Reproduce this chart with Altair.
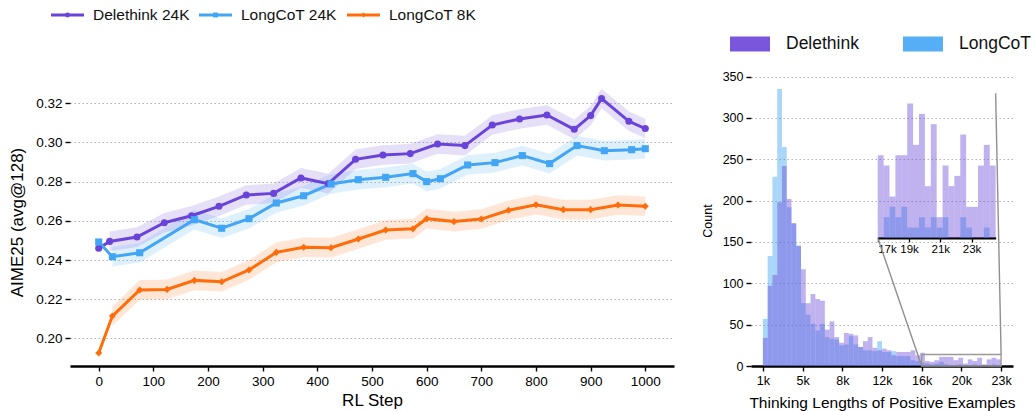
import altair as alt
import pandas as pd

FONT = "Liberation Sans"

# ---- AIME25 (avg@128) over RL training steps ----
SERIES = ["Delethink 24K", "LongCoT 24K", "LongCoT 8K"]
LINE_COLORS = ["#6a44d8", "#42a5f5", "#ff6d0a"]
MARKERS = ["circle", "square", "diamond"]

DELETHINK_STEPS = [0, 20, 70, 120, 170, 220, 270, 320, 370, 420, 470, 520,
                   570, 620, 670, 720, 770, 820, 870, 900, 920, 970, 1000]
DELETHINK_SCORES = [0.2460, 0.2495, 0.2517, 0.2590, 0.2626, 0.2674, 0.2732,
                    0.2740, 0.2819, 0.2790, 0.2914, 0.2936, 0.2943, 0.2992,
                    0.2984, 0.3089, 0.3120, 0.3140, 0.3067, 0.3137, 0.3224,
                    0.3108, 0.3071]
LONGCOT24_STEPS = [0, 25, 75, 175, 225, 275, 325, 375, 425, 475, 525, 575,
                   600, 625, 675, 725, 775, 825, 875, 925, 975, 1000]
LONGCOT24_SCORES = [0.2492, 0.2417, 0.2437, 0.2606, 0.2562, 0.2611, 0.2691,
                    0.2728, 0.2788, 0.2810, 0.2822, 0.2841, 0.2800, 0.2815,
                    0.2885, 0.2897, 0.2933, 0.2892, 0.2984, 0.2958, 0.2963,
                    0.2968]
LONGCOT8_STEPS = [0, 25, 75, 125, 175, 225, 275, 325, 375, 425, 475, 525,
                  575, 600, 650, 700, 750, 800, 850, 900, 950, 1000]
LONGCOT8_SCORES = [0.1925, 0.2114, 0.2247, 0.2250, 0.2296, 0.2289, 0.2349,
                   0.2439, 0.2465, 0.2463, 0.2507, 0.2553, 0.2560, 0.2611,
                   0.2596, 0.2609, 0.2654, 0.2682, 0.2657, 0.2657, 0.2681,
                   0.2674]
# half-width of the shaded spread band (not shown at step 0)
BAND_HALF = {"Delethink 24K": 0.005, "LongCoT 24K": 0.005, "LongCoT 8K": 0.005}

STEP_TICKS = [0, 100, 200, 300, 400, 500, 600, 700, 800, 900, 1000]
SCORE_TICKS = [0.20, 0.22, 0.24, 0.26, 0.28, 0.30, 0.32]

# ---- Thinking-length histograms of positive examples ----
HIST_SERIES = ["Delethink", "LongCoT"]
HIST_COLORS = ["#6a44d8", "#42a5f5"]
HIST_LO, HIST_HI, HIST_BINS = 1000, 23260, 50
DELETHINK_COUNTS = [34, 97, 110, 198, 242, 202, 173, 145, 117, 76, 87, 81, 79,
                    44, 54, 35, 28, 40, 39, 37, 23, 30,
                    35, 22, 19, 21, 19, 13, 17, 17, 17, 19, 13, 16,
                    6, 5, 7, 11, 11, 11, 7, 10, 3, 8, 6, 10, 2, 8, 10, 8]
LONGCOT_COUNTS = [57, 133, 229, 335, 265, 192, 172, 146, 76, 62, 51, 43, 51,
                  35, 33, 32, 25, 26, 36, 26, 23, 19,
                  19, 18, 30, 17, 17, 18, 12, 12, 12, 7, 6, 4,
                  3, 2, 3, 5, 2, 1, 1, 2, 1, 1, 2, 1, 0, 1, 2, 1]
LENGTH_TICKS = [1000, 4710, 8420, 12130, 15840, 19550, 23260]
COUNT_TICKS = [0, 50, 100, 150, 200, 250, 300, 350]

# zoomed tail (inset)
INSET_LO, INSET_HI, INSET_BINS = 17000, 24540, 20
INSET_DELETHINK = [8, 7, 4, 8, 8, 13, 9, 12, 5, 11, 2, 7, 5, 6, 10, 3, 3, 7, 9, 7]
INSET_LONGCOT = [0, 2, 3, 2, 3, 1, 1, 2, 1, 2, 1, 2, 0, 0, 2, 1, 0, 0, 1, 0]
INSET_TICKS = [17000, 19000, 21000, 23000]
ZOOM_X = [15840, 23260]       # region of the main histogram shown in the inset
ZOOM_Y = [0, 14]
INSET_BOX_X = [11730, 22750]  # inset placement, in main-histogram data units
INSET_BOX_Y = [155, 330]

# ---------------- layout sizes ----------------
LW, LH = 604, 288
HW, HH = 262, 291
LX_DOM = [-52.5, 1052.5]
LY_DOM = [0.1859, 0.3329]
HX_DOM = [-113, 24373]
HY_DOM = [0, 352]

BLACK = "#000000"
GRID = dict(grid=True, gridColor="#b3b3b3", gridDash=[1.5, 2.5], gridWidth=1.1)
NO_VIEW = alt.ViewBackground(stroke="transparent", strokeWidth=0)

# ---------------- line chart ----------------
rows, band_rows = [], []
for name, steps, scores in [
    (SERIES[0], DELETHINK_STEPS, DELETHINK_SCORES),
    (SERIES[1], LONGCOT24_STEPS, LONGCOT24_SCORES),
    (SERIES[2], LONGCOT8_STEPS, LONGCOT8_SCORES),
]:
    for k, (s, v) in enumerate(zip(steps, scores)):
        rows.append({"series": name, "step": s, "score": v})
        if k > 0:
            band_rows.append({"series": name, "step": s,
                              "lo": v - BAND_HALF[name], "hi": v + BAND_HALF[name]})
line_df = pd.DataFrame(rows)
band_df = pd.DataFrame(band_rows)

x_axis = alt.Axis(values=STEP_TICKS, format="d", domainColor=BLACK, domainWidth=2.6,
                  tickColor=BLACK, tickWidth=1.4, tickSize=5, labelFontSize=13.5,
                  labelColor=BLACK, labelPadding=3, titleFontSize=17,
                  titleColor=BLACK, titleFontWeight="normal", titlePadding=5,
                  grid=False)
y_axis = alt.Axis(values=SCORE_TICKS, format=".2f", domain=False,
                  tickColor=BLACK, tickWidth=1.4, tickSize=5, labelFontSize=13.5,
                  labelColor=BLACK, labelPadding=3, titleFontSize=17,
                  titleColor=BLACK, titleFontWeight="normal", titlePadding=9,
                  **GRID)
lx = alt.X("step:Q", scale=alt.Scale(domain=LX_DOM, nice=False, zero=False),
           axis=x_axis, title="RL Step")
ly_scale = alt.Scale(domain=LY_DOM, nice=False, zero=False)
line_color = alt.Color("series:N", scale=alt.Scale(domain=SERIES, range=LINE_COLORS),
                       legend=None)
marker_shape = alt.Shape("series:N", scale=alt.Scale(domain=SERIES, range=MARKERS),
                         legend=None)

band = alt.Chart(band_df).mark_area(opacity=0.17).encode(
    x=lx,
    y=alt.Y("lo:Q", scale=ly_scale, axis=y_axis, title="AIME25 (avg@128)"),
    y2="hi:Q",
    color=line_color,
)
lines = alt.Chart(line_df).mark_line(strokeWidth=3).encode(
    x=lx,
    y=alt.Y("score:Q", scale=ly_scale, axis=y_axis, title="AIME25 (avg@128)"),
    color=line_color,
)
points = alt.Chart(line_df).mark_point(filled=True, opacity=1, size=50).encode(
    x=lx,
    y=alt.Y("score:Q", scale=ly_scale, axis=y_axis, title="AIME25 (avg@128)"),
    color=line_color,
    shape=marker_shape,
)
line_chart = alt.layer(band, lines, points).properties(width=LW, height=LH, view=NO_VIEW)

# legend row for the line chart
leg_df = pd.DataFrame({"series": SERIES, "slot": [0, 1, 2]})
leg_x = alt.X("slot:Q", scale=alt.Scale(domain=[0, 3], range=[-2.5, 441.5]), axis=None)
leg_base = alt.Chart(leg_df).encode(x=leg_x, y=alt.value(15))
leg_line = leg_base.mark_point(shape="stroke", size=33 * 33, strokeWidth=3.2,
                               filled=False, opacity=1).encode(color=line_color)
leg_mark = leg_base.mark_point(filled=True, opacity=1, size=24).encode(
    color=line_color, shape=marker_shape)
leg_text = leg_base.mark_text(align="left", baseline="middle", dx=25.5,
                              fontSize=15.5, color="#111111", font=FONT).encode(text="series:N")
line_legend = alt.layer(leg_line, leg_mark, leg_text).properties(
    width=LW, height=30, view=NO_VIEW)

# ---------------- histogram ----------------
def binned(names, counts_list, lo, hi, nbins):
    width = (hi - lo) / nbins
    out = []
    for name, counts in zip(names, counts_list):
        for i, c in enumerate(counts):
            out.append({"series": name, "start": lo + i * width,
                        "end": lo + (i + 1) * width, "count": c})
    return pd.DataFrame(out)

# LongCoT first so that Delethink is painted over it
hist_df = binned(["LongCoT", "Delethink"], [LONGCOT_COUNTS, DELETHINK_COUNTS],
                 HIST_LO, HIST_HI, HIST_BINS)
inset_df = binned(["LongCoT", "Delethink"], [INSET_LONGCOT, INSET_DELETHINK],
                  INSET_LO, INSET_HI, INSET_BINS)

hist_color = alt.Color("series:N", scale=alt.Scale(domain=HIST_SERIES, range=HIST_COLORS),
                       legend=None)
hist_opacity = alt.Opacity("series:N", scale=alt.Scale(domain=HIST_SERIES, range=[0.42, 0.45]),
                           legend=None)

hx_axis = alt.Axis(values=LENGTH_TICKS, labelExpr="round(datum.value / 1000) + 'k'",
                   domainColor=BLACK, domainWidth=2.6, tickColor=BLACK, tickWidth=1.4,
                   tickSize=5, labelFontSize=12.5, labelColor=BLACK, labelPadding=3,
                   labelOverlap=False, titleFontSize=15.5, titleColor=BLACK,
                   titleFontWeight="normal", titlePadding=9, grid=False)
hy_axis = alt.Axis(values=COUNT_TICKS, domain=False, tickColor=BLACK, tickWidth=1.4,
                   tickSize=5, labelFontSize=12.5, labelColor=BLACK, labelPadding=3,
                   titleFontSize=12.5, titleColor=BLACK, titleFontWeight="normal",
                   titlePadding=8, **GRID)
hx_scale = alt.Scale(domain=HX_DOM, nice=False, zero=False)
hy_scale = alt.Scale(domain=HY_DOM, nice=False, zero=False)
HX_TITLE = "Thinking Lengths of Positive Examples"

bars = alt.Chart(hist_df).mark_rect().encode(
    x=alt.X("start:Q", scale=hx_scale, axis=hx_axis, title=HX_TITLE),
    x2="end:Q",
    y=alt.Y("count:Q", scale=hy_scale, axis=hy_axis, title="Count"),
    y2=alt.datum(0),
    color=hist_color,
    opacity=hist_opacity,
)

zoom_box = alt.Chart(pd.DataFrame({"x": [ZOOM_X[0]], "x2": [ZOOM_X[1]],
                                   "y": [ZOOM_Y[1]], "y2": [ZOOM_Y[0]]})).mark_rect(
    fillOpacity=0, stroke="#9a9a9a", strokeWidth=1.4).encode(
    x=alt.X("x:Q", scale=hx_scale, axis=hx_axis, title=HX_TITLE),
    x2="x2:Q",
    y=alt.Y("y:Q", scale=hy_scale, axis=hy_axis, title="Count"),
    y2="y2:Q",
)
connectors = alt.Chart(pd.DataFrame({
    "x": [INSET_BOX_X[0], INSET_BOX_X[1]],
    "y": [INSET_BOX_Y[0], INSET_BOX_Y[1]],
    "x2": [ZOOM_X[0], ZOOM_X[1]],
    "y2": [ZOOM_Y[0], ZOOM_Y[1]],
})).mark_rule(color="#8f8f8f", strokeWidth=1.4).encode(
    x=alt.X("x:Q", scale=hx_scale, axis=hx_axis, title=HX_TITLE),
    x2="x2:Q",
    y=alt.Y("y:Q", scale=hy_scale, axis=hy_axis, title="Count"),
    y2="y2:Q",
)

# inset placement in pixels, derived from its box in main-histogram units
def px_x(v):
    return (v - HX_DOM[0]) / (HX_DOM[1] - HX_DOM[0]) * HW

def px_y(v):
    return HH - (v - HY_DOM[0]) / (HY_DOM[1] - HY_DOM[0]) * HH

ix0, ix1 = px_x(INSET_BOX_X[0]), px_x(INSET_BOX_X[1])
iy0, iy1 = px_y(INSET_BOX_Y[0]), px_y(INSET_BOX_Y[1])

inset_x_axis = alt.Axis(values=INSET_TICKS, labelExpr="round(datum.value / 1000) + 'k'",
                        orient="bottom", offset=-(HH - iy0), domainColor=BLACK,
                        domainWidth=2.2, tickColor=BLACK, tickWidth=1.3, tickSize=4,
                        labelFontSize=11.5, labelColor=BLACK, labelPadding=2,
                        labelOverlap=False, grid=False, title=None)
inset = alt.Chart(inset_df).mark_rect().encode(
    x=alt.X("start:Q", scale=alt.Scale(domain=[INSET_LO, INSET_HI], range=[ix0, ix1],
                                       nice=False, zero=False), axis=inset_x_axis),
    x2="end:Q",
    y=alt.Y("count:Q", scale=alt.Scale(domain=ZOOM_Y, range=[iy0, iy1], nice=False,
                                       zero=False), axis=None),
    y2=alt.datum(0),
    color=hist_color,
    opacity=hist_opacity,
)

hist_chart = alt.layer(
    alt.layer(bars, zoom_box, connectors), inset
).resolve_scale(x="independent", y="independent").properties(
    width=HW, height=HH, view=NO_VIEW)

# legend row for the histogram
RECT_PATH = "M-1,-0.375H1V0.375H-1Z"
hleg_df = pd.DataFrame({"series": HIST_SERIES, "slot": [0, 1]})
hleg_base = alt.Chart(hleg_df).encode(
    x=alt.X("slot:Q", scale=alt.Scale(domain=[0, 1], range=[-1, 172]), axis=None),
    y=alt.value(44),
)
hleg_swatch = hleg_base.mark_point(shape=RECT_PATH, size=1600, filled=True,
                                   opacity=0.9, strokeWidth=0).encode(color=hist_color)
hleg_text = hleg_base.mark_text(align="left", baseline="middle", dx=36, fontSize=17.5,
                                color="#111111", font=FONT).encode(text="series:N")
hist_legend = alt.layer(hleg_swatch, hleg_text).properties(width=HW, height=55, view=NO_VIEW)

left = alt.vconcat(line_legend, line_chart, spacing=48)
right = alt.vconcat(hist_legend, hist_chart, spacing=15)

chart = alt.hconcat(left, right, spacing=27).configure_view(
    stroke="transparent", strokeWidth=0
).configure(font=FONT).configure_axis(labelFont=FONT, titleFont=FONT).properties(
    padding={"left": 8, "top": 0, "right": 0, "bottom": 0}
)

chart.save("out.html", embed_options={"renderer": "svg", "actions": False})
